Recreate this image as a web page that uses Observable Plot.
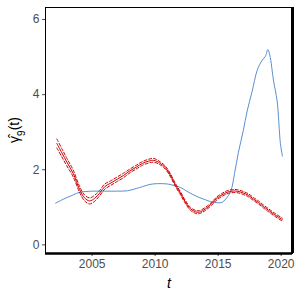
<!DOCTYPE html>
<html><head><meta charset="utf-8">
<script src="https://cdn.jsdelivr.net/npm/d3@7"></script>
<script src="https://cdn.jsdelivr.net/npm/@observablehq/plot@0.6"></script>
<style>body{margin:0;background:#fff;font-family:"Liberation Sans",Arial,sans-serif}</style>
</head><body><div id="chart"></div>
<script>
const blueT = [2002.1,2002.5,2003.0,2003.5,2004.0,2004.5,2005.0,2006.0,2007.0,2007.8,2008.5,2009.0,2009.6,2010.2,2011.0,2011.5,2012.0,2012.5,2013.0,2013.5,2014.0,2014.4,2015.0,2015.3,2015.6,2016.0,2016.3,2016.6,2017.0,2017.3,2017.7,2018.1,2018.5,2018.75,2018.94,2019.1,2019.4,2019.68,2019.94,2020.1];
const blueV = [1.11,1.18,1.26,1.33,1.40,1.42,1.43,1.43,1.43,1.44,1.50,1.55,1.61,1.63,1.62,1.58,1.53,1.43,1.34,1.26,1.20,1.15,1.12,1.13,1.22,1.43,1.90,2.45,3.05,3.56,4.09,4.65,4.92,5.02,5.20,5.05,4.36,3.83,2.70,2.36];
const redT = [2002.2,2002.6,2003.0,2003.5,2004.0,2004.4,2004.8,2005.2,2005.6,2006.0,2006.5,2007.0,2007.5,2008.0,2008.5,2009.0,2009.5,2009.9,2010.4,2010.8,2011.2,2011.6,2012.0,2012.4,2012.8,2013.2,2013.5,2014.0,2014.5,2014.9,2015.3,2015.7,2016.1,2016.5,2017.0,2017.4,2017.8,2018.2,2018.6,2019.0,2019.5,2020.1];
const redV = [2.70,2.45,2.20,1.90,1.48,1.25,1.17,1.24,1.38,1.55,1.65,1.75,1.85,1.97,2.07,2.17,2.23,2.25,2.17,2.06,1.86,1.60,1.38,1.14,0.96,0.88,0.87,0.96,1.10,1.24,1.33,1.40,1.43,1.43,1.38,1.32,1.22,1.13,1.02,0.92,0.80,0.67];
const redSE = [0.12,0.11,0.10,0.09,0.08,0.08,0.08,0.08,0.07,0.07,0.06,0.06,0.06,0.05,0.05,0.05,0.05,0.05,0.04,0.04,0.04,0.04,0.04,0.04,0.04,0.04,0.04,0.04,0.04,0.04,0.04,0.04,0.04,0.04,0.04,0.04,0.04,0.04,0.04,0.04,0.04,0.04];
const xTicks = [2005,2010,2015,2020];
const yTicks = [0,2,4,6];
const xDom = [2001.3,2020.9];
const yDom = [-0.23,6.32];

const blue = blueT.map((t,i)=>({t, v: blueV[i]}));
const red = redT.map((t,i)=>({t, v: redV[i], lo: redV[i]-redSE[i], hi: redV[i]+redSE[i]}));

const plot = Plot.plot({
  width: 300, height: 300,
  marginTop: 7, marginBottom: 47, marginLeft: 45, marginRight: 8,
  style: {fontFamily: "Liberation Sans, Arial, sans-serif", fontSize: "12px", color: "#4d4d4d", background: "#fff"},
  x: {domain: xDom, ticks: xTicks, tickFormat: d3.format("d"), label: null, tickSize: 3, tickPadding: 3},
  y: {domain: yDom, ticks: yTicks, tickFormat: d3.format("d"), label: null, tickSize: 3, tickPadding: 3},
  marks: [
    Plot.line(blue, {x: "t", y: "v", stroke: "#5b8fd0", strokeWidth: 1, curve: "catmull-rom"}),
    Plot.line(red, {x: "t", y: "lo", stroke: "#cc0000", strokeWidth: 1, strokeDasharray: "3,2", curve: "catmull-rom"}),
    Plot.line(red, {x: "t", y: "hi", stroke: "#cc0000", strokeWidth: 1, strokeDasharray: "3,2", curve: "catmull-rom"}),
    Plot.line(red, {x: "t", y: "v", stroke: "#cc0000", strokeWidth: 1, curve: "catmull-rom"}),
    Plot.frame({stroke: "black", strokeWidth: 1}),
    Plot.ruleY([yDom[0]], {stroke: "black", strokeWidth: 2.5}),
    Plot.ruleX([xDom[1]], {stroke: "black", strokeWidth: 3})
  ]
});
document.getElementById("chart").appendChild(plot);
const svg = d3.select(plot);
svg.selectAll("[aria-label='x-axis tick label'] text, [aria-label='y-axis tick label'] text").attr("fill", "#4d4d4d");
const yl = svg.append("text")
  .attr("transform", "translate(19,130) rotate(-90)")
  .attr("text-anchor", "middle")
  .attr("fill", "black")
  .style("font-size", "14px");
yl.append("tspan").text("γ\u0302");
yl.append("tspan").attr("baseline-shift", "sub").style("font-size", "10px").text("9");
yl.append("tspan").text("(t)");
svg.append("text")
  .attr("x", 169).attr("y", 288)
  .attr("text-anchor", "middle")
  .attr("fill", "black")
  .style("font-size", "14px").style("font-style", "italic")
  .text("t");
</script></body></html>
